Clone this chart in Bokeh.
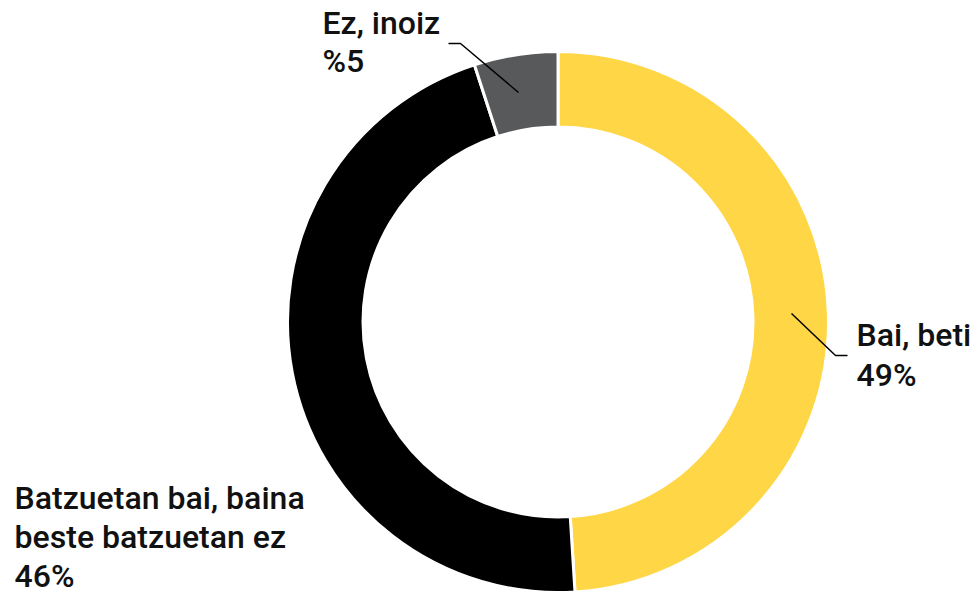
import numpy as np
from bokeh.plotting import figure
from bokeh.models import Range1d
from bokeh.core.properties import value
from bokeh.embed import file_html
from bokeh.resources import INLINE

# Data
categories = ["Bai, beti", "Batzuetan bai, baina beste batzuetan ez", "Ez, inoiz"]
values = [49, 46, 5]
colors = ["#FFD645", "#000000", "#58595B"]
label_lines = [["Bai, beti", "49%"],
               ["Batzuetan bai, baina", "beste batzuetan ez", "46%"],
               ["Ez, inoiz", "%5"]]

W, H = 975, 593
# data coords = reference pixel coords (x), y up: y = H - y_ref
p = figure(width=W, height=H, output_backend="svg", toolbar_location=None,
           x_range=Range1d(0, W), y_range=Range1d(0, H),
           min_border=0, outline_line_color=None)
p.axis.visible = False
p.grid.visible = False
p.background_fill_color = "white"
p.border_fill_color = "white"

cx, cy = 557.5, H - 321.5
r_in, r_out = 195, 270.5

vals = np.array(values, dtype=float)
frac = vals / vals.sum()
cum = np.concatenate([[0], np.cumsum(frac)])
start = np.pi / 2 - cum[:-1] * 2 * np.pi
end = np.pi / 2 - cum[1:] * 2 * np.pi

p.annular_wedge(x=cx, y=cy, inner_radius=r_in, outer_radius=r_out,
                start_angle=list(start), end_angle=list(end), direction="clock",
                fill_color=colors, line_color="white", line_width=3)

# leader lines
p.line([791, 835, 847], [H - 313, H - 355, H - 355], line_color="black", line_width=1.5)
p.line([448, 460, 518], [H - 43, H - 43, H - 92], line_color="black", line_width=1.5)

font = value("Roboto Medium")
shift = 12
positions = [(856, [346, 386]), (14, [509, 548, 587]), (322, [34, 72])]
for lines, (x, ys) in zip(label_lines, positions):
    p.text(x=[x] * len(lines), y=[H - (yy - shift) for yy in ys], text=lines,
           text_font=font, text_font_size="32px", text_font_style="normal",
           text_color="#111111", text_baseline="alphabetic", text_align="left")

open("out.html", "w").write(file_html(p, INLINE))
